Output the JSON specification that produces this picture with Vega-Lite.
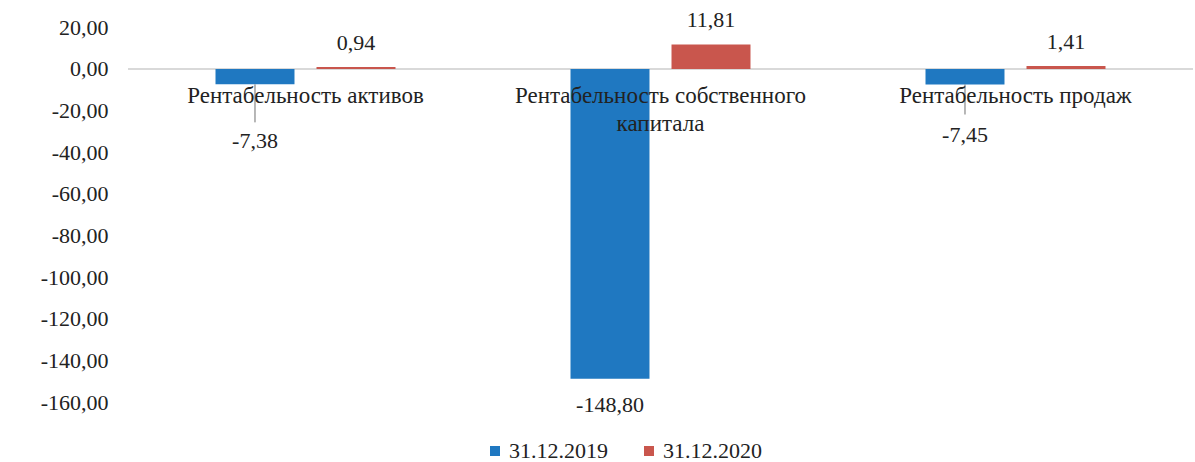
{
  "$schema": "https://vega.github.io/schema/vega-lite/v6.json",
  "width": 1065,
  "height": 402,
  "autosize": "none",
  "padding": {"left": 128, "top": 0, "right": 2, "bottom": 60},
  "background": "white",
  "config": {"view": {"stroke": null}, "font": "Liberation Serif"},
  "data": {
    "values": [
      {"cat": "Рентабельность активов", "series": "31.12.2019", "value": -7.38},
      {"cat": "Рентабельность активов", "series": "31.12.2020", "value": 0.94},
      {"cat": "Рентабельность собственного капитала", "series": "31.12.2019", "value": -148.80},
      {"cat": "Рентабельность собственного капитала", "series": "31.12.2020", "value": 11.81},
      {"cat": "Рентабельность продаж", "series": "31.12.2019", "value": -7.45},
      {"cat": "Рентабельность продаж", "series": "31.12.2020", "value": 1.41}
    ]
  },
  "transform": [
    {"calculate": "(datum.value < 0 ? '-' : '') + replace(format(abs(datum.value), '.2f'), '.', ',')", "as": "valLabel"},
    {"calculate": "datum.cat == 'Рентабельность собственного капитала' ? ['Рентабельность собственного', 'капитала'] : datum.cat", "as": "catLabel"}
  ],
  "encoding": {
    "x": {
      "field": "cat", "type": "nominal", "sort": null, "axis": null,
      "scale": {"paddingInner": 0.493, "paddingOuter": 0.2465}
    },
    "y": {
      "field": "value", "type": "quantitative",
      "scale": {"domain": [-160, 33.15], "nice": false},
      "axis": {
        "title": null, "grid": false, "domain": false, "ticks": false,
        "values": [-160, -140, -120, -100, -80, -60, -40, -20, 0, 20],
        "labelExpr": "(datum.value < 0 ? '-' : '') + replace(format(abs(datum.value), '.2f'), '.', ',')",
        "labelFont": "Liberation Serif", "labelFontSize": 22, "labelColor": "#222222",
        "labelPadding": 20
      }
    }
  },
  "layer": [
    {
      "mark": {"type": "rule", "color": "#d9d9d9", "strokeWidth": 1.5},
      "encoding": {"y": {"datum": 0}, "x": null}
    },
    {
      "mark": {"type": "bar"},
      "encoding": {
        "xOffset": {"field": "series", "type": "nominal", "scale": {"paddingInner": 0.218}},
        "color": {
          "field": "series", "type": "nominal",
          "scale": {"domain": ["31.12.2019", "31.12.2020"], "range": ["#1f78c1", "#c9564d"]},
          "legend": {
            "title": null, "orient": "none", "direction": "horizontal",
            "legendX": 356, "legendY": 440,
            "symbolType": "square", "symbolSize": 100, "symbolStrokeWidth": 0,
            "labelFont": "Liberation Serif", "labelFontSize": 22, "labelColor": "#222222",
            "labelOffset": 3, "columnPadding": 30
          }
        }
      }
    },
    {
      "transform": [{"filter": "datum.series == '31.12.2019' && datum.value > -100"}],
      "mark": {"type": "rule", "color": "#6f6f6f", "strokeWidth": 1, "y2Offset": {"expr": "datum.cat == 'Рентабельность активов' ? 38 : 30"}},
      "encoding": {
        "xOffset": {"field": "series", "type": "nominal", "scale": {"paddingInner": 0.218}},
        "y2": {"field": "value"}
      }
    },
    {
      "mark": {
        "type": "text", "baseline": "middle", "align": "center",
        "font": "Liberation Serif", "fontSize": 22, "color": "#222222",
        "dy": {"expr": "datum.value > 0 ? -24 : (datum.value < -100 ? 26 : (datum.cat == 'Рентабельность активов' ? 57 : 50))"}
      },
      "encoding": {
        "xOffset": {"field": "series", "type": "nominal", "scale": {"paddingInner": 0.218}},
        "text": {"field": "valLabel"}
      }
    },
    {
      "transform": [{"filter": "datum.series == '31.12.2019'"}],
      "mark": {
        "type": "text", "baseline": "top", "align": "center",
        "font": "Liberation Serif", "fontSize": 23, "color": "#222222",
        "dy": 16, "lineHeight": 28
      },
      "encoding": {
        "y": {"datum": 0},
        "text": {"field": "catLabel"}
      }
    }
  ]
}
